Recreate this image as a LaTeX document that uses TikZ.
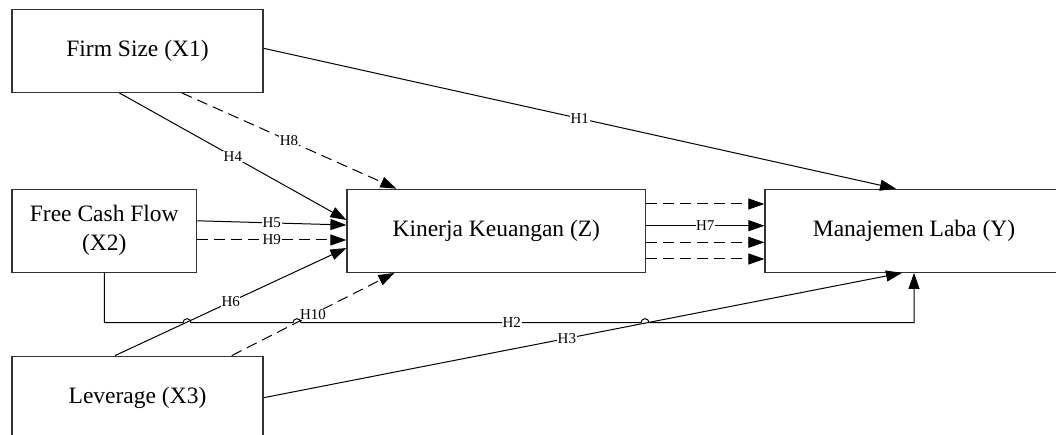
\documentclass[tikz,border=0pt]{standalone}
\usepackage{fontspec}
\setmainfont{Liberation Serif}
\usetikzlibrary{arrows.meta,calc}
\begin{document}
\begin{tikzpicture}[x=1pt,y=-1pt,
  box/.style={draw=black!80, line width=1.2pt, minimum height=83pt, inner sep=0pt, align=center, font=\fontsize{23.5}{29}\selectfont},
  conn/.style={line width=1pt, -{Triangle[length=16pt,width=11pt]}},
  dsh/.style={conn, dash pattern=on 11pt off 6pt},
  lbl/.style={fill=white, inner sep=0.6pt, font=\fontsize{15}{17}\selectfont}]
\useasboundingbox (0,0) rectangle (1056,435);
\clip (0,0) rectangle (1056,435);

\node[box, minimum width=251pt] (firm) at (137.5,50.8) {Firm Size (X1)};
\node[box, minimum width=184.7pt] (fcf) at (104.3,230.8) {Free Cash Flow\\(X2)};
\node[box, minimum width=251pt] (lev) at (137.5,397.7) {Leverage (X3)};
\node[box, minimum width=298.6pt] (kin) at (496.3,230.8) {Kinerja Keuangan (Z)};
\node[box, minimum width=298pt] (man) at (914,230.8) {Manajemen Laba (Y)};
\coordinate (h2) at (0,322.7);

% H1
\draw[conn] ($(firm.east)+(0,-2.5)$) -- node[lbl,pos=0.5]{H1} ($(man.north)+(-18,0)$);
% H8
\draw[dsh] ($(firm.south)+(44.2,0)$) -- node[lbl,pos=0.5]{H8} ($(kin.north west)+(50,0)$);
% H4
\draw[conn] ($(firm.south)+(-18.2,0)$) -- node[lbl,pos=0.5]{H4} ($(kin.west)+(0,-10.8)$);
% H5
\draw[conn] ($(fcf.east)+(0,-10)$) -- node[lbl,pos=0.5]{H5} ($(kin.west)+(0,-5.8)$);
% H9
\draw[dsh] ($(fcf.east)+(0,9.2)$) -- node[lbl,pos=0.5]{H9} ($(kin.west)+(0,9.2)$);
% H6
\draw[conn] ($(lev.north)+(-22.5,0)$) -- node[lbl,pos=0.5]{H6} ($(kin.west)+(0,17.2)$);
% H10
\draw[dsh] ($(lev.north)+(94.2,0)$) -- node[lbl,pos=0.5]{H10} ($(kin.south west)+(48,0)$);
% H3
\draw[conn] (lev.east) -- node[lbl,pos=0.475]{H3} ($(man.south)+(-12,0)$);
% H2 with hop-overs
\draw[conn] (fcf.south) -- (fcf.south |- h2) -- (183,322.7)
  arc[start angle=180,end angle=0,radius=4pt] -- (293,322.7)
  arc[start angle=180,end angle=0,radius=4pt] -- (641,322.7) node[lbl,pos=0.62]{H2}
  arc[start angle=180,end angle=0,radius=4pt] -- (man.south |- h2) -- (man.south);
% Z -> Y
\draw[dsh] ($(kin.east)+(0,-26.8)$) -- ($(man.west)+(0,-26.8)$);
\draw[conn] ($(kin.east)+(0,-5.1)$) -- node[lbl,pos=0.5]{H7} ($(man.west)+(0,-5.1)$);
\draw[dsh] ($(kin.east)+(0,11.5)$) -- ($(man.west)+(0,11.5)$);
\draw[dsh] ($(kin.east)+(0,28.2)$) -- ($(man.west)+(0,28.2)$);
\end{tikzpicture}
\end{document}
